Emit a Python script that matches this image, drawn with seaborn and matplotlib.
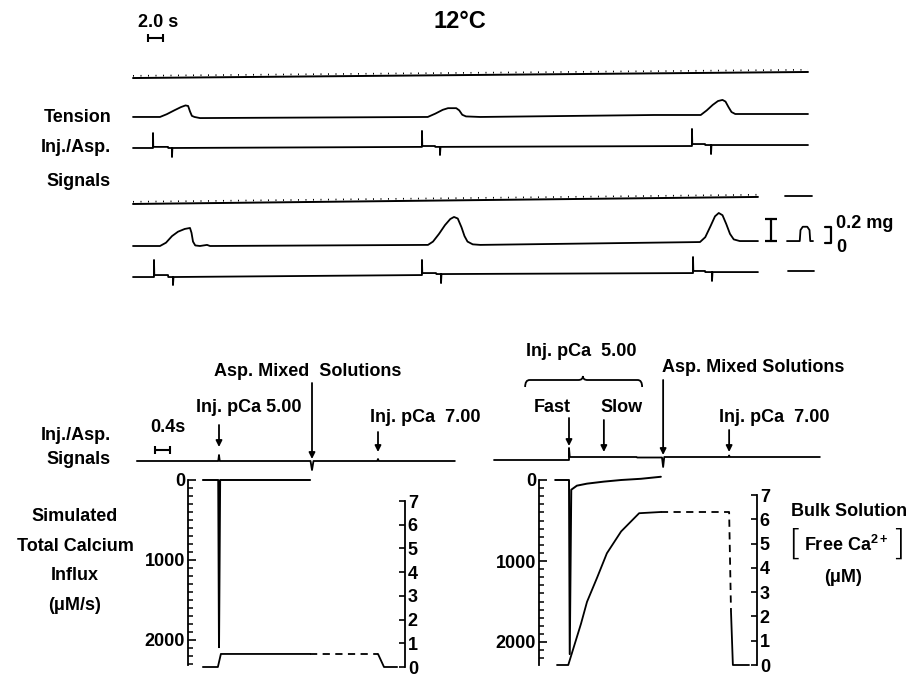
import numpy as np
import pandas as pd
import matplotlib
matplotlib.use("Agg")
import matplotlib.pyplot as plt
from matplotlib import font_manager
from matplotlib.path import Path
from matplotlib.patches import PathPatch
from matplotlib.ticker import MultipleLocator
import seaborn as sns

# ---- top record at 12 C: time (s) and signal (mg) above each trace's own baseline ----
marker1_t = [0, 90]
marker1_v = [0, 0.055]
tension1_t = [0, 3.6, 4.5, 5.5, 6.4, 7.0, 7.35, 7.6, 7.85, 8.2, 8.93,
              39.3, 40.3, 41.3, 42.0, 43.1, 43.5, 43.9, 44.4, 46.3,
              69.5, 75.7, 76.5, 77.3, 78.0, 78.6, 79.0, 79.4, 79.8, 80.3, 90.0]
tension1_v = [0, 0, 0.025, 0.06, 0.09, 0.105, 0.10, 0.05, 0.01, 0, -0.01,
              0, 0.03, 0.065, 0.08, 0.08, 0.06, 0.02, 0.005, 0,
              0.018, 0.018, 0.06, 0.11, 0.145, 0.155, 0.14, 0.09, 0.045, 0.027, 0.027]
inj1_t = [0, 2.67, 2.67, 2.70, 4.67, 4.70, 5.2, 5.2, 5.25, 38.53, 38.53, 38.57, 40.27,
          40.3, 40.93, 40.93, 41.0, 74.53, 74.53, 74.57, 76.27, 76.3, 77.07, 77.07, 77.13, 90]
inj1_v = [0, 0, 0.136, 0.01, 0.01, 0, 0, -0.082, 0, 0.01, 0.155, 0.018, 0.018,
          0.01, 0.01, -0.064, 0.01, 0.018, 0.173, 0.036, 0.036, 0.027, 0.027, -0.055, 0.027, 0.027]

marker2_t = [0, 83.33]
marker2_v = [0, 0.064]
tension2_t = [0, 3.6, 4.4, 5.2, 6.0, 6.9, 7.6, 7.8, 8.0, 8.3, 8.93, 9.87, 10.27,
              39.33, 40.0, 40.8, 41.6, 42.3, 42.8, 43.3, 43.8, 44.2, 44.6, 45.3, 46.3,
              75.6, 76.3, 77.0, 77.6, 78.1, 78.6, 79.1, 79.6, 80.1, 80.9, 83.33]
tension2_v = [0, 0, 0.03, 0.09, 0.13, 0.155, 0.164, 0.12, 0.04, 0.005, 0, 0.01, 0,
              0.01, 0.04, 0.11, 0.19, 0.245, 0.264, 0.25, 0.17, 0.09, 0.04, 0.015, 0.01,
              0.036, 0.08, 0.18, 0.27, 0.30, 0.28, 0.20, 0.11, 0.06, 0.045, 0.045]
inj2_t = [0, 2.8, 2.8, 2.84, 4.67, 4.7, 5.33, 5.33, 5.4, 38.53, 38.53, 38.57, 40.4, 40.45,
          41.07, 41.07, 41.13, 74.67, 74.67, 74.71, 76.27, 76.3, 77.2, 77.2, 77.27, 83.33]
inj2_v = [0, 0, 0.155, 0.018, 0.018, 0, 0, -0.073, 0, 0.018, 0.155, 0.036, 0.036, 0.027,
          0.027, -0.055, 0.027, 0.036, 0.182, 0.055, 0.055, 0.045, 0.045, -0.036, 0.045, 0.045]

cal_mg = 0.2
cal_pulse_t = [87.2, 88.9, 89.0, 89.3, 89.9, 90.2, 90.3, 90.67]
cal_pulse_v = [0, 0, 0.10, 0.13, 0.13, 0.10, 0, 0]
scale_top_s = 2.0

# ---- lower left: simulation, time (s) from injection of pCa 5.00 ----
L_sig_t = [-2.19, -0.02, 0, 0.02, 2.44, 2.48, 2.52, 4.22, 4.24, 4.26, 6.29]
L_sig_v = [0, 0, 0.6, 0, 0, -0.9, 0, 0, 0.2, 0, 0]
L_flux_t = [-0.43, -0.02, 0, 0.03, 2.43]
L_flux_v = [0, 0, 2090, 0, 0]
L_ca_t = [-0.43, -0.03, 0.05, 2.43]
L_ca_v = [0, 0, 0.55, 0.55]
L_ca_dash_t = [2.43, 4.24]
L_ca_dash_v = [0.55, 0.55]
L_ca_end_t = [4.24, 4.4, 4.75]
L_ca_end_v = [0.55, 0, 0]
L_events = {"inj5": 0.0, "asp": 2.48, "inj7": 4.24}

# ---- lower right: injection split into fast and slow phases ----
R_sig_t = [-2.0, 0, 0, 0.02, 1.8, 1.82, 2.48, 2.51, 2.54, 4.25, 4.27, 4.29, 6.69]
R_sig_v = [0, 0, 1.2, 0.3, 0.3, 0.25, 0.25, -0.7, 0.3, 0.3, 0.45, 0.3, 0.3]
R_flux_t = [-0.37, 0, 0.02, 0.06, 0.21, 0.48, 0.93, 1.39, 1.92, 2.45]
R_flux_v = [0, 0, 2150, 120, 70, 45, 20, 0, -15, -40]
R_ca_t = [-0.32, -0.02, 0.08, 0.32, 0.48, 0.75, 1.01, 1.39, 1.87, 2.45]
R_ca_v = [0, 0, 0.5, 1.7, 2.6, 3.6, 4.6, 5.5, 6.25, 6.3]
R_ca_dash_t = [2.45, 4.27, 4.32]
R_ca_dash_v = [6.3, 6.3, 2.2]
R_ca_end_t = [4.32, 4.37, 4.8]
R_ca_end_v = [2.2, 0, 0]
R_events = {"fast": 0.0, "slow": 0.93, "asp": 2.51, "inj7": 4.27}
scale_low_s = 0.4

flux_major = [0, 1000, 2000]
ca_ticks = list(range(8))

# ---------------------------------------------------------------------------
sns.set_style("ticks")
names = {f.name for f in font_manager.fontManager.ttflist}
main_font = "Liberation Sans" if "Liberation Sans" in names else "DejaVu Sans"
plt.rcParams["font.family"] = [main_font, "DejaVu Sans"]
plt.rcParams["font.weight"] = "bold"
plt.rcParams["mathtext.fontset"] = "custom"
plt.rcParams["mathtext.rm"] = main_font + ":bold"
plt.rcParams["mathtext.it"] = main_font + ":bold"
plt.rcParams["mathtext.bf"] = main_font + ":bold"
for k in ["text.color", "axes.labelcolor", "xtick.color", "ytick.color", "axes.edgecolor"]:
    plt.rcParams[k] = "black"

W, H = 908, 677
fig = plt.figure(figsize=(W / 100, H / 100), dpi=100)
FS = 13


def px_axes(x0, y0, x1, y1):
    ax = fig.add_axes([x0 / W, 1 - y1 / H, (x1 - x0) / W, (y1 - y0) / H])
    ax.patch.set_visible(False)
    return ax


def trace(ax, t, v, offset=0.0, lw=1.3, **kw):
    df = pd.DataFrame({"t": t, "v": np.asarray(v, dtype=float) + offset})
    sns.lineplot(data=df, x="t", y="v", ax=ax, estimator=None, sort=False,
                 color="black", lw=lw, clip_on=False, **kw)
    ax.set_xlabel("")
    ax.set_ylabel("")


def arrow(ax, t, y0, y1):
    ax.annotate("", xy=(t, y1), xytext=(t, y0),
                arrowprops=dict(arrowstyle="-|>", color="black", lw=1.3,
                                mutation_scale=9, shrinkA=0, shrinkB=0))


def scale_bar(ax, t0, length, y):
    ax.plot([t0, t0 + length], [y, y], color="black", lw=1.5,
            marker="|", ms=6, mew=1.5, clip_on=False)


# ---- top panel ----
top = px_axes(133, 10, 900, 290)
top.set_xlim(0, 767 / 7.5)
top.set_ylim(0, 280 / 110)
top.axis("off")

off = {"m1": 1.927, "t1": 1.573, "i1": 1.291, "m2": 0.782, "t2": 0.4, "i2": 0.118}
tick_h = 0.02
for key, tt, vv in [("m1", marker1_t, marker1_v), ("m2", marker2_t, marker2_v)]:
    trace(top, tt, vv, off[key], lw=1.4)
    trace(top, tt, vv, off[key] + tick_h, lw=1.2, linestyle=(0, (0.6, 3.9)))
trace(top, tension1_t, tension1_v, off["t1"])
trace(top, inj1_t, inj1_v, off["i1"])
trace(top, tension2_t, tension2_v, off["t2"])
trace(top, inj2_t, inj2_v, off["i2"])

# calibrations at the right of the second record
base = off["t2"] + tension2_v[-1]
top.plot([85.07, 85.07], [base, base + cal_mg], color="black", lw=1.6,
         marker="_", ms=9, mew=1.6, clip_on=False)
trace(top, cal_pulse_t, cal_pulse_v, base, lw=1.3)
trace(top, [87.0, 90.5], [0, 0], off["m2"] + marker2_v[-1] + 0.01, lw=1.3)
trace(top, [87.3, 90.8], [0, 0], off["i2"] + inj2_v[-1] + 0.01, lw=1.3)
ptop = base + max(cal_pulse_v)
top.plot([92.3, 93.1, 93.1, 92.3], [ptop, ptop, base - 0.015, base - 0.015],
         color="black", lw=1.6, clip_on=False)
top.text(93.8, ptop + 0.03, "0.2 mg", fontsize=FS, ha="left", va="center")
top.text(93.8, base - 0.06, "0", fontsize=FS, ha="left", va="center")

scale_bar(top, 2.0, scale_top_s, 2.29)
top.text(0.67, 2.436, "2.0 s", fontsize=FS, ha="left", va="center")
fig.text(460 / W, 1 - 22 / H, "12°C", fontsize=17, ha="center", va="center")

for label, y in [("Tension", 118), ("Inj./Asp.", 148), ("Signals", 182)]:
    fig.text(111 / W, 1 - y / H, label, fontsize=FS, ha="right", va="center")


# ---- lower panels ----
def lower_panel(x_inj, x_left, x_right, flux_bottom, ca_top, ca_bottom, sig_x0, sig_x1):
    sig = px_axes(sig_x0, 330, sig_x1, 475)
    sig.set_xlim((sig_x0 - x_inj) / 37.5, (sig_x1 - x_inj) / 37.5)
    sig.set_ylim(0, 14.5)
    sig.axis("off")

    flux = px_axes(x_left, 480, x_right, 665)
    flux.set_xlim((x_left - x_inj) / 37.5, (x_right - x_inj) / 37.5)
    flux.set_ylim(flux_bottom, 0)
    flux.set_xticks([])
    for s in ["top", "right", "bottom"]:
        flux.spines[s].set_visible(False)
    flux.spines["left"].set_linewidth(1.3)
    flux.set_yticks(flux_major)
    flux.yaxis.set_minor_locator(MultipleLocator(100))
    flux.tick_params(axis="y", which="major", direction="in", length=6, width=1.2,
                     pad=2, labelsize=FS)
    flux.tick_params(axis="y", which="minor", direction="in", length=3.5, width=1.1)

    ca = px_axes(x_left, ca_top, x_right, ca_bottom)
    ca.set_xlim(flux.get_xlim())
    ca.set_ylim(0, 7)
    ca.set_xticks([])
    for s in ["top", "left", "bottom"]:
        ca.spines[s].set_visible(False)
    ca.spines["right"].set_linewidth(1.3)
    ca.yaxis.tick_right()
    ca.set_yticks(ca_ticks)
    ca.tick_params(axis="y", direction="in", length=4.5, width=1.2, pad=2, labelsize=FS)
    return sig, flux, ca


# left
sigL, fluxL, caL = lower_panel(219, 188, 405, 185 / 80 * 1000, 501, 667, 137, 490)
trace(sigL, L_sig_t, L_sig_v, 1.4)
trace(fluxL, L_flux_t, L_flux_v, lw=1.4)
trace(caL, L_ca_t, L_ca_v)
trace(caL, L_ca_dash_t, L_ca_dash_v, linestyle=(0, (4, 3)))
trace(caL, L_ca_end_t, L_ca_end_v)
arrow(sigL, L_events["inj5"], 5.0, 2.8)
arrow(sigL, L_events["asp"], 9.2, 1.6)
arrow(sigL, L_events["inj7"], 4.3, 2.3)
sigL.text(0.8, 6.7, "Inj. pCa 5.00", fontsize=FS, ha="center", va="center")
sigL.text(2.37, 10.3, "Asp. Mixed  Solutions", fontsize=FS, ha="center", va="center")
sigL.text(5.49, 5.7, "Inj. pCa  7.00", fontsize=FS, ha="center", va="center")
sigL.text(-1.84, 4.7, "0.4s", fontsize=FS, ha="left", va="center")
scale_bar(sigL, -1.707, scale_low_s, 2.5)

fig.text(111 / W, 1 - 435 / H, "Inj./Asp.", fontsize=FS, ha="right", va="center")
fig.text(111 / W, 1 - 460 / H, "Signals", fontsize=FS, ha="right", va="center")
fig.text(75 / W, 1 - 561 / H, "Simulated\nTotal Calcium\nInflux\n(μM/s)", fontsize=FS,
         ha="center", va="center", linespacing=1.95)

# right
sigR, fluxR, caR = lower_panel(569, 539, 757, 185 / 81 * 1000, 495, 665, 494, 850)
trace(sigR, R_sig_t, R_sig_v, 1.5)
trace(fluxR, R_flux_t, R_flux_v, lw=1.4)
trace(caR, R_ca_t, R_ca_v)
trace(caR, R_ca_dash_t, R_ca_dash_v, linestyle=(0, (4, 3)))
trace(caR, R_ca_end_t, R_ca_end_v)
arrow(sigR, R_events["fast"], 5.7, 2.9)
arrow(sigR, R_events["slow"], 5.5, 2.3)
arrow(sigR, R_events["asp"], 9.5, 2.0)
arrow(sigR, R_events["inj7"], 4.5, 2.3)
sigR.text(0.32, 12.3, "Inj. pCa  5.00", fontsize=FS, ha="center", va="center")
sigR.text(-0.45, 6.8, "Fast", fontsize=FS, ha="center", va="center")
sigR.text(1.39, 6.8, "Slow", fontsize=FS, ha="center", va="center")
sigR.text(4.91, 10.8, "Asp. Mixed Solutions", fontsize=FS, ha="center", va="center")
sigR.text(5.47, 5.7, "Inj. pCa  7.00", fontsize=FS, ha="center", va="center")

# curly brace over fast + slow injection
t0, t1, tc, yb = -1.17, 1.95, 0.37, 9.5
verts = [(t0, yb - 0.7), (t0, yb), (t0 + 0.12, yb), (tc - 0.12, yb), (tc, yb), (tc, yb + 0.4),
         (tc, yb), (tc + 0.12, yb), (t1 - 0.12, yb), (t1, yb), (t1, yb - 0.7)]
codes = [Path.MOVETO, Path.CURVE3, Path.CURVE3, Path.LINETO, Path.CURVE3, Path.CURVE3,
         Path.CURVE3, Path.CURVE3, Path.LINETO, Path.CURVE3, Path.CURVE3]
sigR.add_patch(PathPatch(Path(verts, codes), fill=False, lw=1.3, color="black", clip_on=False))

fig.text(849 / W, 1 - 512 / H, "Bulk Solution", fontsize=FS, ha="center", va="center")
fig.text(846 / W, 1 - 545 / H, r"Free Ca$^{2+}$", fontsize=FS, ha="center", va="center")
fig.text(795 / W, 1 - 545 / H, "[", fontsize=25, ha="center", va="center", weight="light",
         family=["DejaVu Sans"])
fig.text(898 / W, 1 - 545 / H, "]", fontsize=25, ha="center", va="center", weight="light",
         family=["DejaVu Sans"])
fig.text(843 / W, 1 - 578 / H, "(μM)", fontsize=FS, ha="center", va="center")

fig.savefig("out.png", dpi=100)
